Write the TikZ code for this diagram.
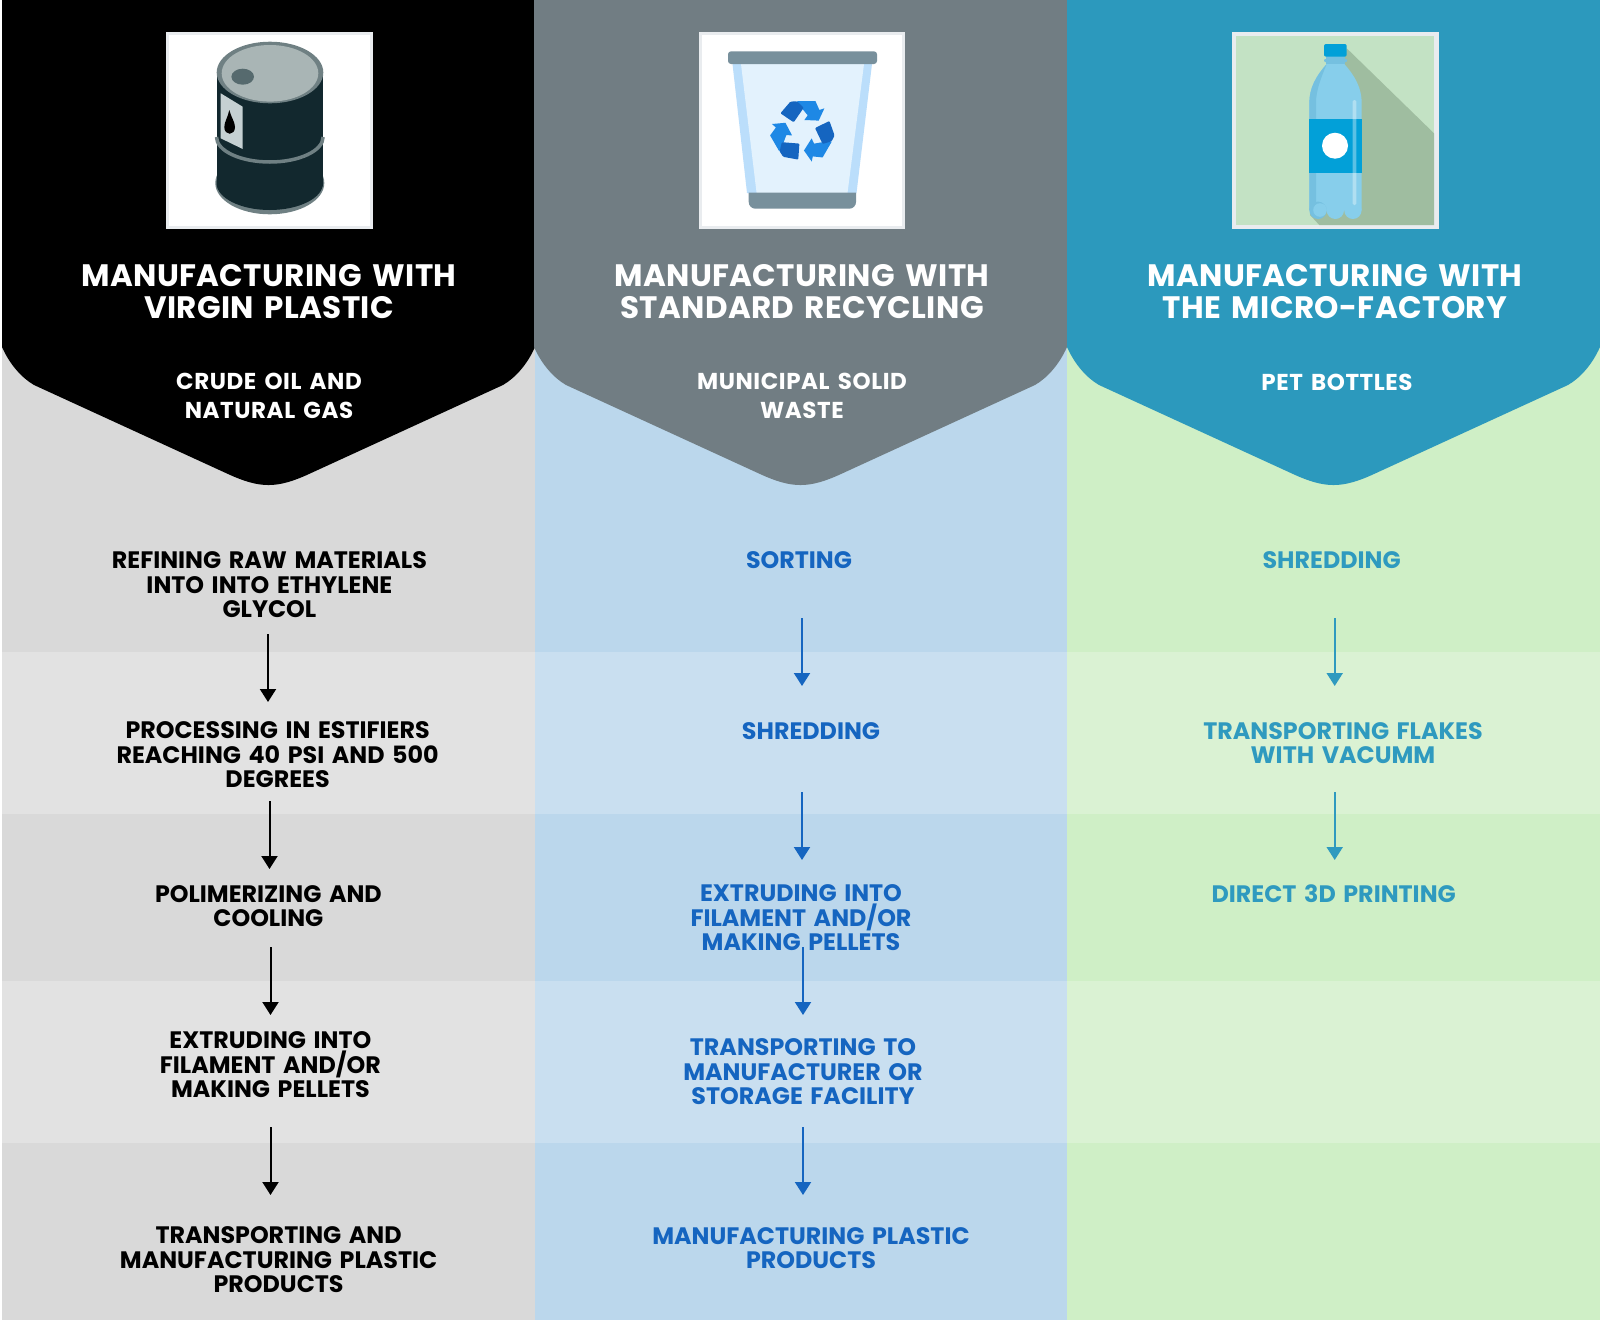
\documentclass[tikz,border=0pt]{standalone}
\usepackage{fontspec}
\usetikzlibrary{arrows.meta}
\setmainfont{Poppins}[WordSpace=1.5]
\definecolor{vbanda}{HTML}{D9D9D9}
\definecolor{vbandb}{HTML}{E2E2E2}
\definecolor{rbanda}{HTML}{BBD7EC}
\definecolor{rbandb}{HTML}{C9DFF0}
\definecolor{mbanda}{HTML}{CFEFC6}
\definecolor{mbandb}{HTML}{DAF2D3}
\definecolor{rhead}{HTML}{717D83}
\definecolor{mhead}{HTML}{2C99BD}
\definecolor{rtext}{HTML}{1565C0}
\definecolor{mtext}{HTML}{2F9ABF}
\definecolor{frameline}{HTML}{E9ECEF}
\definecolor{barrelrim}{HTML}{6F8083}
\definecolor{barrelbody}{HTML}{12282E}
\definecolor{barrellid}{HTML}{A9B5B5}
\definecolor{barrelcap}{HTML}{566A6E}
\definecolor{barrellabel}{HTML}{C5D0D2}
\definecolor{binside}{HTML}{BBDEFB}
\definecolor{bininner}{HTML}{E3F2FD}
\definecolor{binlid}{HTML}{78909C}
\definecolor{reclight}{HTML}{1E88E5}
\definecolor{recdark}{HTML}{1565C0}
\definecolor{bottlepanel}{HTML}{C3E2C4}
\definecolor{bottleshade}{HTML}{9FBDA0}
\definecolor{bottlebody}{HTML}{87CEEB}
\definecolor{bottleedge}{HTML}{75C0E0}
\definecolor{bottleblue}{HTML}{02A0D8}
\tikzset{
  x=1pt, y=-1pt,
  title/.style={text=white, align=center, inner sep=0pt, font=\fontsize{31}{32}\selectfont\bfseries\addfontfeature{LetterSpace=1.2}},
  source/.style={text=white, align=center, inner sep=0pt, font=\fontsize{23}{29}\selectfont\bfseries\addfontfeature{LetterSpace=2.5}},
  vstep/.style={text=black, align=center, inner sep=0pt, font=\fontsize{23.8}{24.5}\selectfont\bfseries},
  rstep/.style={vstep, text=rtext},
  mstep/.style={vstep, text=mtext},
  vflow/.style={-{Triangle[length=13pt,width=16pt]}, line width=2pt, black},
  rflow/.style={vflow, rtext},
  mflow/.style={vflow, mtext},
  shield/.pic={
    \fill[pic actions] (0,0) -- (0,347) .. controls (8,365) and (20,378) .. (32,385) -- (226,474)
      .. controls (258,488.7) and (275,488.7) .. (307,474) -- (501,385)
      .. controls (513,378) and (525,365) .. (533,347) -- (533,0) -- cycle;
  },
}
\begin{document}
\begin{tikzpicture}
  \useasboundingbox (0,0) rectangle (1600,1320);
  \fill[white] (0,0) rectangle (1600,1320);

  \fill[vbanda] (2,0) rectangle (535,652);
  \fill[vbandb] (2,652) rectangle (535,814);
  \fill[vbanda] (2,814) rectangle (535,981);
  \fill[vbandb] (2,981) rectangle (535,1143);
  \fill[vbanda] (2,1143) rectangle (535,1320);
  \fill[rbanda] (535,0) rectangle (1067,652);
  \fill[rbandb] (535,652) rectangle (1067,814);
  \fill[rbanda] (535,814) rectangle (1067,981);
  \fill[rbandb] (535,981) rectangle (1067,1143);
  \fill[rbanda] (535,1143) rectangle (1067,1320);
  \fill[mbanda] (1067,0) rectangle (1600,652);
  \fill[mbandb] (1067,652) rectangle (1600,814);
  \fill[mbanda] (1067,814) rectangle (1600,981);
  \fill[mbandb] (1067,981) rectangle (1600,1143);
  \fill[mbanda] (1067,1143) rectangle (1600,1320);

  \pic[fill=black] at (2,0) {shield};
  \pic[fill=rhead] at (534,0) {shield};
  \pic[fill=mhead] at (1067,0) {shield};

  % barrel
  \fill[frameline] (166,31.7) rectangle (373,228.7);
  \fill[white] (169,35) rectangle (370,225.5);
  \fill[barrelrim] (269.8,183) ellipse [x radius=54.5, y radius=31.3];
  \fill[barrelbody] (269.8,183) ellipse [x radius=53.3, y radius=27];
  \fill[barrelbody] (216.7,72.5) rectangle (323.3,183);
  \draw[barrelrim, line width=3.5pt] (216.5,137) arc [start angle=180, end angle=0, x radius=53.3, y radius=25];
  \fill[barrelrim] (270,72.5) ellipse [x radius=53.3, y radius=30.8];
  \fill[barrellid] (270,73.3) ellipse [x radius=48.3, y radius=28.3];
  \fill[barrelcap] (242.7,76.7) ellipse [x radius=11.3, y radius=8];
  \fill[barrellabel] (220.7,93.3) -- (242.7,106.7) -- (242.7,149) -- (220.7,138.3) -- cycle;
  \fill[black] (229.3,110) .. controls (231,117) and (235,122) .. (235,127)
    .. controls (235,136) and (224.3,136) .. (224.3,127) .. controls (224.3,122) and (228,117) .. (229.3,110) -- cycle;

  % bin
  \fill[frameline] (699,31.7) rectangle (905,228.7);
  \fill[white] (702,35) rectangle (902,225.5);
  \fill[binside] (732.5,64) -- (872,64) -- (856.5,193) -- (747,193) -- cycle;
  \fill[bininner] (741,64) -- (864,64) -- (847.5,193) -- (756.6,193) -- cycle;
  \fill[binlid, rounded corners=3pt] (728,51.3) rectangle (877,64);
  \fill[binlid] (748.7,192.7) -- (856,192.7) -- (856,202) arc [start angle=0, end angle=90, radius=6.7] -- (755.4,208.7) arc [start angle=90, end angle=180, radius=6.7] -- cycle;
  \foreach \ang in {0,120,240}{
    \begin{scope}[shift={(802.7,131.3)}, rotate=\ang]
      \fill[reclight] (-5.7,-30.3) -- (12.7,-30.3) -- (16.7,-21.3) -- (21.7,-23) -- (16,-10.7) -- (1.7,-11.3) -- (5,-16) -- (0,-22) -- cycle;
      \fill[recdark, rounded corners=1pt] (-22.3,-18) -- (-12.3,-29.7) -- (-5.7,-30) -- (1,-23.5) -- (-9,-9) -- cycle;
    \end{scope}
  }

  % bottle
  \fill[frameline] (1231.5,31.7) rectangle (1438.5,228.7);
  \fill[bottlepanel] (1235.6,35.5) rectangle (1434,225);
  \fill[bottleshade] (1346.7,48.3) -- (1434,133.3) -- (1434,225) -- (1319.3,225) -- (1310,215) -- cycle;
  \fill[bottleedge] (1326,56) rectangle (1345,64);
  \fill[bottleedge, rounded corners=1pt] (1324,59) rectangle (1347,62);
  \fill[bottlebody] (1326.7,64) -- (1344.3,64) .. controls (1355,76) and (1361.7,88) .. (1361.7,103)
    -- (1361.7,210) -- (1309.3,210) -- (1309.3,103) .. controls (1309.3,88) and (1316,76) .. (1326.7,64) -- cycle;
  \fill[bottleedge] (1309.3,210) -- (1309.3,103) .. controls (1309.3,88) and (1316,76) .. (1326.7,64) .. controls (1321,78) and (1316,90) .. (1316,103) -- (1316,210) -- cycle;
  \fill[bottleedge] (1318,210.3) circle (8.7);
  \fill[bottlebody] (1320,210) circle (6.8);
  \fill[bottlebody] (1335.3,210.3) circle (8.7);
  \fill[bottlebody] (1352.9,210.3) circle (8.7);
  \fill[bottleblue, rounded corners=2pt] (1324,44) rectangle (1346.7,56.7);
  \fill[bottleblue] (1309.3,118.7) rectangle (1361.7,173);
  \fill[white] (1335,145.7) circle (13);
  \fill[white, opacity=.35, rounded corners=1.5pt] (1352.7,100) rectangle (1356.3,205);

  \node[title] (vtitle) at (269,292) {MANUFACTURING WITH\\VIRGIN PLASTIC};
  \node[title] (rtitle) at (802,292) {MANUFACTURING WITH\\STANDARD RECYCLING};
  \node[title] (mtitle) at (1335,292) {MANUFACTURING WITH\\THE MICRO-FACTORY};
  \node[source] (vsource) at (269,396) {CRUDE OIL AND\\NATURAL GAS};
  \node[source] (rsource) at (802,396) {MUNICIPAL SOLID\\WASTE};
  \node[source] (msource) at (1337,382) {PET BOTTLES};

  \node[vstep] (v1) at (269.4,585) {REFINING RAW MATERIALS\\INTO INTO ETHYLENE\\GLYCOL};
  \node[vstep] (v2) at (277.6,755) {PROCESSING IN ESTIFIERS\\REACHING 40 PSI AND 500\\DEGREES};
  \node[vstep] (v3) at (268.4,906) {POLIMERIZING AND\\COOLING};
  \node[vstep] (v4) at (270.4,1065) {EXTRUDING INTO\\FILAMENT AND/OR\\MAKING PELLETS};
  \node[vstep] (v5) at (278.6,1260) {TRANSPORTING AND\\MANUFACTURING PLASTIC\\PRODUCTS};

  \node[rstep] (r1) at (799,560) {SORTING};
  \node[rstep] (r2) at (811,731) {SHREDDING};
  \node[rstep] (r3) at (801,918) {EXTRUDING INTO\\FILAMENT AND/OR\\MAKING PELLETS};
  \node[rstep] (r4) at (803,1072) {TRANSPORTING TO\\MANUFACTURER OR\\STORAGE FACILITY};
  \node[rstep] (r5) at (811,1248) {MANUFACTURING PLASTIC\\PRODUCTS};

  \node[mstep] (m1) at (1331.6,560) {SHREDDING};
  \node[mstep] (m2) at (1343,743) {TRANSPORTING FLAKES\\WITH VACUMM};
  \node[mstep] (m3) at (1333.7,894) {DIRECT 3D PRINTING};

  \coordinate (va1) at (268,634);
  \coordinate (vb1) at (268,702);
  \coordinate (va2) at (269.5,801);
  \coordinate (vb2) at (269.5,869);
  \coordinate (va3) at (270.5,947);
  \coordinate (vb3) at (270.5,1015);
  \coordinate (va4) at (270.5,1127);
  \coordinate (vb4) at (270.5,1195);
  \coordinate (ra1) at (802,618);
  \coordinate (rb1) at (802,686);
  \coordinate (ra2) at (802,792);
  \coordinate (rb2) at (802,860);
  \coordinate (ra3) at (803,947);
  \coordinate (rb3) at (803,1015);
  \coordinate (ra4) at (803,1127);
  \coordinate (rb4) at (803,1195);
  \coordinate (ma1) at (1334.7,618);
  \coordinate (mb1) at (1334.7,686);
  \coordinate (ma2) at (1334.7,792);
  \coordinate (mb2) at (1334.7,860);

  \draw[vflow] (va1) to (vb1);
  \draw[vflow] (va2) to (vb2);
  \draw[vflow] (va3) to (vb3);
  \draw[vflow] (va4) to (vb4);
  \draw[rflow] (ra1) to (rb1);
  \draw[rflow] (ra2) to (rb2);
  \draw[rflow] (ra3) to (rb3);
  \draw[rflow] (ra4) to (rb4);
  \draw[mflow] (ma1) to (mb1);
  \draw[mflow] (ma2) to (mb2);
\end{tikzpicture}
\end{document}
